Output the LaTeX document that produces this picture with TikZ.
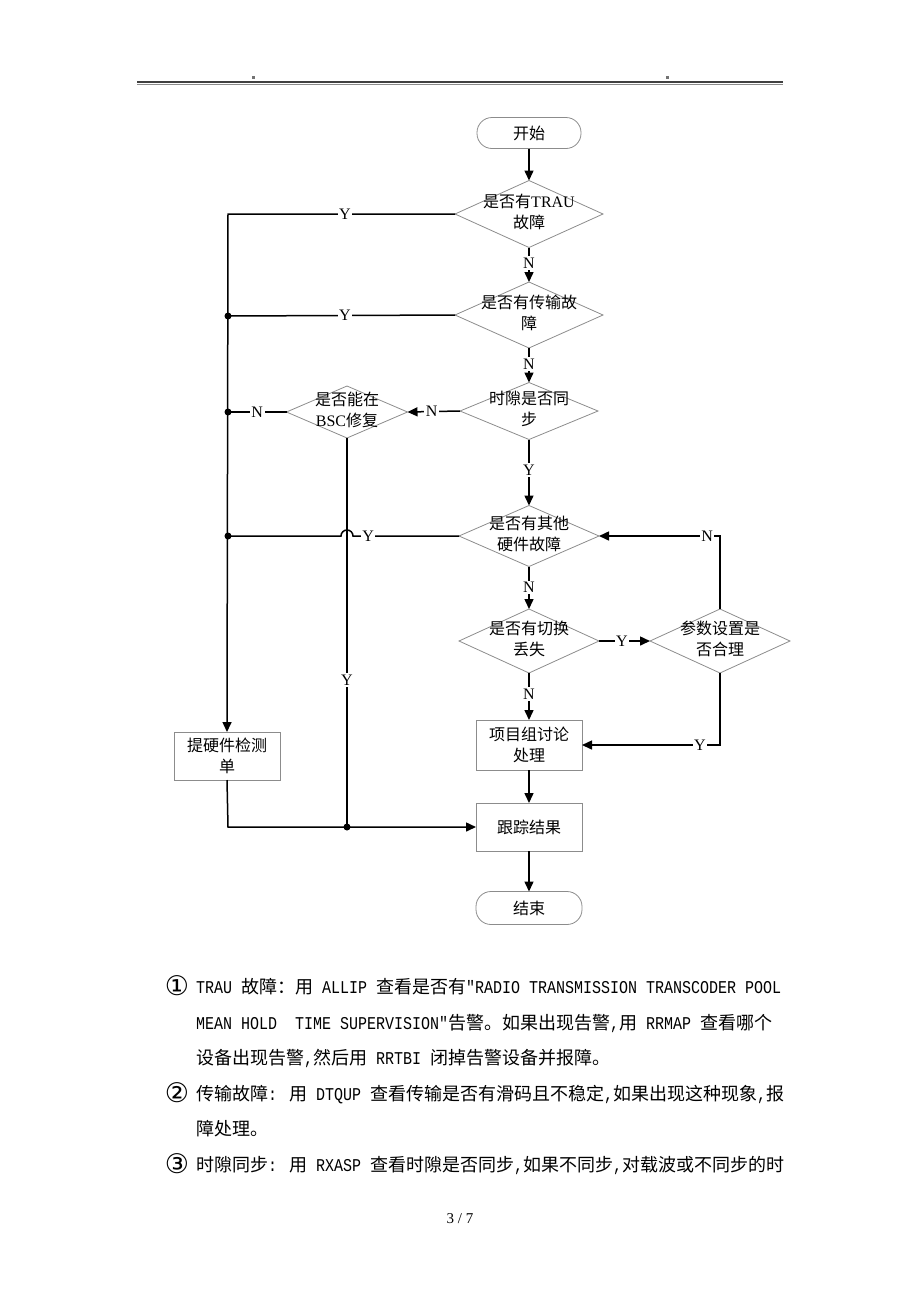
\documentclass[tikz,border=0pt]{standalone}
\usepackage{fontspec}
\setmainfont{Liberation Serif}
\newfontfamily\cjk{Noto Sans CJK SC}
\newfontfamily\mo[FakeStretch=0.8333]{Liberation Mono}
\newfontfamily\djv{DejaVu Sans}
\usetikzlibrary{shapes.geometric,arrows.meta}
\newcommand{\zt}[1]{\makebox[0pt]{\raisebox{-4.5pt}[0pt][0pt]{\begin{tabular}{@{}c@{}}#1\end{tabular}}}}
\tikzset{
 dia/.style={diamond, draw=black!45, line width=0.8pt, inner sep=0pt, outer sep=0pt, font=\cjk\fontsize{16}{21}\selectfont},
 proc/.style={rectangle, draw=black!45, line width=0.8pt, minimum width=106pt, align=center, font=\cjk\fontsize{16}{21}\selectfont, inner sep=0pt, outer sep=0pt},
 term/.style={rectangle, rounded corners=15pt, draw=black!45, line width=0.8pt, minimum width=104pt, minimum height=31pt, inner sep=0pt, outer sep=0pt, font=\cjk\fontsize{16}{18}\selectfont},
 conn/.style={line width=1.5pt, black},
 arr/.style={conn, -{Triangle[length=10pt,width=9pt]}},
 lab/.style={fill=white, inner sep=1.5pt, font=\rmfamily\fontsize{16}{16}\selectfont},
 jdot/.style={circle, fill=black, inner sep=0pt, minimum size=7pt},
 body/.style={anchor=base west, inner sep=0pt, font=\cjk\fontsize{18}{18}\selectfont},
 circnum/.style={inner sep=0pt, font=\djv\fontsize{27}{27}\selectfont},
}
\begin{document}
\begin{tikzpicture}[x=1pt,y=-1pt]
\useasboundingbox (0,0) rectangle (920,1302);
% header
\draw[line width=2pt, black!75] (137,82) -- (783,82);
\draw[line width=1pt, black!45] (137,84.8) -- (783,84.8);
\fill[black!55] (252,76) rectangle (254.5,78.5);
\fill[black!55] (666,76) rectangle (668.5,78.5);
% nodes
\node[term] (start) at (529,133) {开始};
\node[dia, minimum width=148pt, minimum height=67pt] (d1) at (529,214) {\zt{是否有{\rmfamily TRAU}\\故障}};
\node[dia, minimum width=148pt, minimum height=66pt] (d2) at (529,315) {\zt{是否有传输故\\障}};
\node[dia, minimum width=138pt, minimum height=57pt] (d3) at (529,411) {\zt{时隙是否同\\步}};
\node[dia, minimum width=121pt, minimum height=52pt] (d4) at (347,412) {\zt{是否能在\\{\rmfamily BSC}修复}};
\node[dia, minimum width=140pt, minimum height=61pt] (d5) at (529,536) {\zt{是否有其他\\硬件故障}};
\node[dia, minimum width=140pt, minimum height=64pt] (d6) at (529,641) {\zt{是否有切换\\丢失}};
\node[dia, minimum width=140pt, minimum height=64pt] (d7) at (720,641) {\zt{参数设置是\\否合理}};
\node[proc, minimum height=50pt] (box1) at (529,745) {项目组讨论\\处理};
\node[proc, minimum height=48pt] (box2) at (529,827) {跟踪结果};
\node[term, minimum width=106pt, minimum height=33pt] (end) at (529,908) {结束};
\node[proc, minimum height=48pt] (hw) at (227,756) {提硬件检测\\单};
% junctions and corners
\coordinate (c1) at (228,214);
\node[jdot] (j2) at (228,316) {};
\node[jdot] (j3) at (228,412) {};
\node[jdot] (j4) at (228,536) {};
\node[jdot] (j5) at (347,827) {};
\coordinate (c7) at (720,536);
\coordinate (c8) at (720,745);
\coordinate (c9) at (228,827);
\coordinate (hopr) at (353,536);
% connectors
\draw[arr] (start) -- (d1);
\draw[arr] (d1.west) -- node[lab,pos=0.485]{Y} (c1) -- (hw.north);
\draw[arr] (d1.south) -- node[lab,pos=0.45]{N} (d2.north);
\draw[conn] (d2.west) -- node[lab,pos=0.485]{Y} (j2.center);
\draw[arr] (d2.south) -- node[lab,pos=0.47]{N} (d3.north);
\draw[arr] (d3.west) -- node[lab,pos=0.54]{N} (d4.east);
\draw[conn] (d4.west) -- node[lab]{N} (j3.center);
\draw[conn] (d4.south) -- node[lab,pos=0.622]{Y} (j5.center);
\draw[arr] (d3.south) -- node[lab,pos=0.46]{Y} (d5.north);
\draw[conn] (d5.west) -- node[lab,pos=0.858]{Y} (hopr) arc[start angle=0,end angle=-180,radius=6] -- (j4.center);
\draw[arr] (d5.south) -- node[lab,pos=0.49]{N} (d6.north);
\draw[arr] (d6.east) -- node[lab,pos=0.45]{Y} (d7.west);
\draw[arr] (d7.north) -- (c7) -- node[lab,pos=0.107]{N} (d5.east);
\draw[arr] (d7.south) -- (c8) -- node[lab,pos=0.145]{Y} (box1.east);
\draw[arr] (d6.south) -- node[lab,pos=0.45]{N} (box1.north);
\draw[arr] (box1) -- (box2);
\draw[arr] (box2) -- (end);
\draw[arr] (hw.south) -- (c9) -- (box2.west);
% body text
\node[circnum] (n1) at (177,986) {①};
\node[body] (t1) at (196,993) {{\mo TRAU }故障：用{\mo\ ALLIP }查看是否有{\mo "RADIO TRANSMISSION TRANSCODER POOL}};
\node[body] (t2) at (196,1029) {{\mo MEAN HOLD\ \ TIME SUPERVISION"}告警。如果出现告警{\mo ,}用{\mo\ RRMAP }查看哪个};
\node[body] (t3) at (196,1064) {设备出现告警{\mo ,}然后用{\mo\ RRTBI }闭掉告警设备并报障。};
\node[circnum] (n2) at (177,1093) {②};
\node[body] (t4) at (196,1100) {传输故障{\mo : }用{\mo\ DTQUP }查看传输是否有滑码且不稳定{\mo ,}如果出现这种现象{\mo ,}报};
\node[body] (t5) at (196,1135) {障处理。};
\node[circnum] (n3) at (177,1164) {③};
\node[body] (t6) at (196,1171) {时隙同步{\mo : }用{\mo\ RXASP }查看时隙是否同步{\mo ,}如果不同步{\mo ,}对载波或不同步的时};
\node[font=\fontsize{15}{15}\selectfont, inner sep=0pt] (pg) at (460,1219) {3 / 7};
\end{tikzpicture}
\end{document}
